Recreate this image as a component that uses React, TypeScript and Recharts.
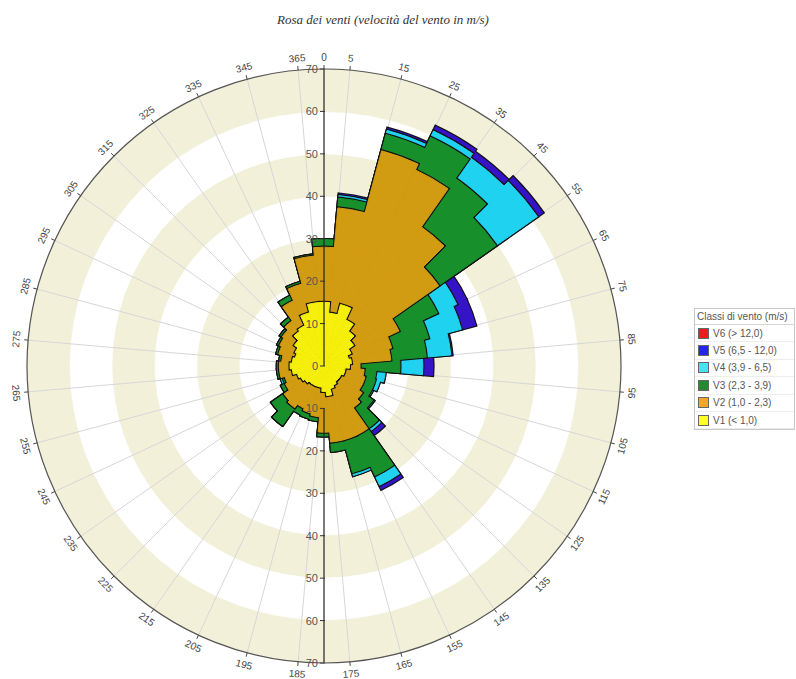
import React from 'react';
import {
  RadialBarChart, RadialBar, PolarAngleAxis, PolarRadiusAxis, PolarGrid,
} from 'recharts';

// 36 sectors of 10 degrees, centred on 0, 10, ... 350
const directions = [
  '0', '10', '20', '30', '40', '50', '60', '70', '80', '90', '100', '110',
  '120', '130', '140', '150', '160', '170', '180', '190', '200', '210', '220', '230',
  '240', '250', '260', '270', '280', '290', '300', '310', '320', '330', '340', '350',
];

// frequency (%) of each speed class per sector, stacked from V1 outwards
const v1 = [15, 12.5, 15, 12, 10, 8.5, 7, 6, 6.5, 6, 5, 5, 4.5, 4.5, 4.5, 5, 5.5, 7, 6, 5, 5, 5, 5, 5.5, 6, 6.5, 7.5, 8, 7.5, 7, 7.5, 8.5, 10, 10.5, 13, 15];
const v2 = [13, 24.9, 37.5, 39, 30, 24.5, 12.5, 10.5, 9.3, 2.5, 4.5, 5, 5.5, 6.5, 7.5, 13, 12.5, 11, 9.6, 7, 6.5, 6, 7, 6, 4, 3, 3, 2.5, 2.5, 4, 4, 3.5, 3, 6.5, 7, 11];
const v3 = [1.8, 2.3, 4, 8.5, 14, 16.5, 10, 9, 8.4, 9.4, 2.8, 2.5, 2.5, 3, 6, 10.5, 8, 2.2, 0.9, 1, 1.3, 1.6, 5, 3.5, 1, 0.5, 0.5, 0.5, 0.5, 0.5, 0.5, 0.5, 1, 1.3, 0.5, 0.3];
const v4 = [0, 0.6, 1, 1.6, 6, 11.9, 5, 8, 5.8, 5.4, 2.2, 1.1, 0.3, 0.3, 0.8, 2.5, 0.7, 0, 0, 0, 0, 0, 0, 0, 0, 0.5, 0, 0, 0, 0, 0, 0, 0, 0, 0, 0];
const v5 = [0, 0.4, 0.5, 1.2, 1.7, 1.6, 2.5, 3.5, 0.3, 2.4, 0, 0, 0, 0, 1.2, 1, 0, 0, 0, 0, 0, 0, 0, 0, 0, 0, 0, 0, 0, 0, 0, 0, 0, 0, 0, 0];
const v6 = [0, 0, 0, 0, 0, 0, 0, 0, 0, 0, 0, 0, 0, 0, 0, 0, 0, 0, 0, 0, 0, 0, 0, 0, 0, 0, 0, 0, 0, 0, 0, 0, 0, 0, 0, 0];

const radiusTicks = [0, 10, 20, 30, 40, 50, 60, 70];
const radiusTicksDown = [10, 20, 30, 40, 50, 60, 70];
const ringWidths = [10, 10, 10, 10, 10, 10, 10];
const ringFills = ['#f2f0d9', '#ffffff', '#f2f0d9', '#ffffff', '#f2f0d9', '#ffffff', '#f2f0d9'];

// compass labels sit on the sector edges; the edge at 355 is printed "365"
const compassTicks = [0, 5, 15, 25, 35, 45, 55, 65, 75, 85, 95, 105, 115, 125, 135, 145, 155, 165, 175, 185, 195, 205, 215, 225, 235, 245, 255, 265, 275, 285, 295, 305, 315, 325, 335, 345, 355];
const compassLabels = ['0', '5', '15', '25', '35', '45', '55', '65', '75', '85', '95', '105', '115', '125', '135', '145', '155', '165', '175', '185', '195', '205', '215', '225', '235', '245', '255', '265', '275', '285', '295', '305', '315', '325', '335', '345', '365'];

// legend order (top to bottom) is also the drawing order, widest polygon first
const classes = [
  { key: 'c6', name: 'V6 (> 12,0)', values: v6, fill: '#e82020', swatch: '#f01c1c' },
  { key: 'c5', name: 'V5 (6,5 - 12,0)', values: v5, fill: '#3514c8', swatch: '#2424ee' },
  { key: 'c4', name: 'V4 (3,9 - 6,5)', values: v4, fill: '#1fd3f0', swatch: '#42e4f0' },
  { key: 'c3', name: 'V3 (2,3 - 3,9)', values: v3, fill: '#17902c', swatch: '#1f8c30' },
  { key: 'c2', name: 'V2 (1,0 - 2,3)', values: v2, fill: '#d29c12', swatch: '#f5a62a' },
  { key: 'c1', name: 'V1 (< 1,0)', values: v1, fill: '#f5ef0a', swatch: '#ffff22' },
];

const stackOrder = [...classes].reverse();
const rows = directions.map((dir, i) => {
  const row: Record<string, any> = { dir };
  let acc = 0;
  stackOrder.forEach((c) => {
    acc += c.values[i];
    row[c.key] = Math.round(acc * 100) / 100;
  });
  ringWidths.forEach((w, j) => { row['ring' + j] = w; });
  return row;
});
const drawn = classes.filter((c) => c.values.some((v) => v > 0));

const CX = 324;
const CY = 366;
const R = 297;
const FONT = '"Liberation Sans", Arial, sans-serif';

const labelRotation = (c: number) => {
  if (c > 90 && c < 270) return c - 180;
  if (c >= 270) return c - 360;
  return c;
};

// one tick per sector: label on the sector's clockwise edge (plus the "0" at north)
const AngleTick = (props: any) => {
  const cx = props.cx ?? CX;
  const cy = props.cy ?? CY;
  const radius = props.radius ?? R;
  const d = Number(props.payload.value);
  const marks = [d + 5];
  if (d === 0) marks.push(0);
  return (
    <g>
      {marks.map((c) => {
        const rad = (c * Math.PI) / 180;
        const s = Math.sin(rad);
        const k = Math.cos(rad);
        const tx = cx + (radius + 12) * s;
        const ty = cy - (radius + 12) * k;
        const rot = labelRotation(c);
        return (
          <g key={c}>
            <line x1={cx + radius * s} y1={cy - radius * k} x2={cx + (radius + 4) * s} y2={cy - (radius + 4) * k} stroke="#444" />
            <text x={tx} y={ty} transform={`rotate(${rot} ${tx} ${ty})`} textAnchor="middle"
              dominantBaseline="central" fontSize={10} fill="#444" fontFamily={FONT}>
              {compassLabels[compassTicks.indexOf(c)]}
            </text>
          </g>
        );
      })}
    </g>
  );
};

const RadiusTick = (props: any) => {
  const { x, y, payload } = props;
  return (
    <g>
      <line x1={x - 4} y1={y} x2={x + 1} y2={y} stroke="#333" />
      <text x={x - 6} y={y} textAnchor="end" dominantBaseline="central" fontSize={11}
        fill="#555" fontFamily={FONT}>{payload.value}</text>
    </g>
  );
};

const WindLegend = () => (
  <div style={{
    position: 'absolute', left: 694, top: 308, width: 99, border: '1px solid #c8c8c8',
    background: '#fff', fontFamily: FONT, fontSize: 10, color: '#555',
  }}>
    <div style={{ height: 15, lineHeight: '15px', paddingLeft: 2, borderBottom: '1px solid #d8d8d8', whiteSpace: 'nowrap' }}>
      Classi di vento (m/s)
    </div>
    {classes.map((c) => (
      <div key={c.key} style={{ height: 16.4, display: 'flex', alignItems: 'center', borderBottom: '1px solid #eee', whiteSpace: 'nowrap' }}>
        <span style={{ width: 9, height: 9, background: c.swatch, border: '1px solid #666', marginLeft: 3, marginRight: 4 }} />
        {c.name}
      </div>
    ))}
  </div>
);

export default function App() {
  return (
    <div style={{ position: 'absolute', left: 0, top: 0, width: 796, height: 679, background: '#fff' }}>
      <div style={{
        position: 'absolute', left: 0, width: 766, top: 12, textAlign: 'center',
        fontFamily: '"Liberation Serif", "Times New Roman", serif', fontStyle: 'italic', fontSize: 13, color: '#333',
      }}>
        Rosa dei venti (velocità del vento in m/s)
      </div>
      <div style={{ position: 'absolute', left: 0, top: 0 }}>
        <RadialBarChart
          width={796} height={679} data={rows} layout="centric"
          cx={CX} cy={CY} innerRadius={0} outerRadius={R}
          startAngle={85} endAngle={-275} barCategoryGap={0} barGap={0}
          margin={{ top: 0, right: 0, bottom: 0, left: 0 }}
        >
          <PolarAngleAxis angleAxisId="rings" dataKey="dir" type="category" tick={false} tickLine={false} axisLine={false} />
          {drawn.flatMap((c) => [c.key + 'o', c.key + 'f']).map((id) => (
            <PolarAngleAxis key={id} angleAxisId={id} dataKey="dir" type="category" tick={false} tickLine={false} axisLine={false} />
          ))}
          <PolarRadiusAxis type="number" domain={[0, 70]} ticks={radiusTicks} angle={90}
            tick={<RadiusTick />} axisLine={{ stroke: '#222', strokeWidth: 1.2 }} tickLine={false} allowDataOverflow />
          <PolarRadiusAxis radiusAxisId="down" type="number" domain={[0, 70]} ticks={radiusTicksDown} angle={-90}
            tick={<RadiusTick />} axisLine={{ stroke: '#222', strokeWidth: 1.2 }} tickLine={false} allowDataOverflow />

          {ringWidths.map((_, j) => (
            <RadialBar key={'ring' + j} dataKey={'ring' + j} stackId="rings" angleAxisId="rings"
              fill={ringFills[j]} stroke={ringFills[j]} strokeWidth={0.8} isAnimationActive={false} zIndex={-200} />
          ))}

          <PolarGrid gridType="circle" polarRadius={[]} polarAngles={compassTicks.slice(1).map((c) => 90 - c)} stroke="#d6d6d6" />

          {drawn.flatMap((c) => [
            <RadialBar key={c.key + 'o'} dataKey={c.key} angleAxisId={c.key + 'o'}
              fill={c.fill} stroke="#111" strokeWidth={3.2} isAnimationActive={false} />,
            <RadialBar key={c.key + 'f'} dataKey={c.key} angleAxisId={c.key + 'f'}
              fill={c.fill} stroke={c.fill} strokeWidth={1} isAnimationActive={false} />,
          ])}

          <PolarAngleAxis angleAxisId="labels" dataKey="dir" type="category"
            tick={<AngleTick />} tickLine={false}
            axisLineType="circle" axisLine={{ stroke: '#555', strokeWidth: 1.2 }} />
        </RadialBarChart>
      </div>
      <WindLegend />
    </div>
  );
}
